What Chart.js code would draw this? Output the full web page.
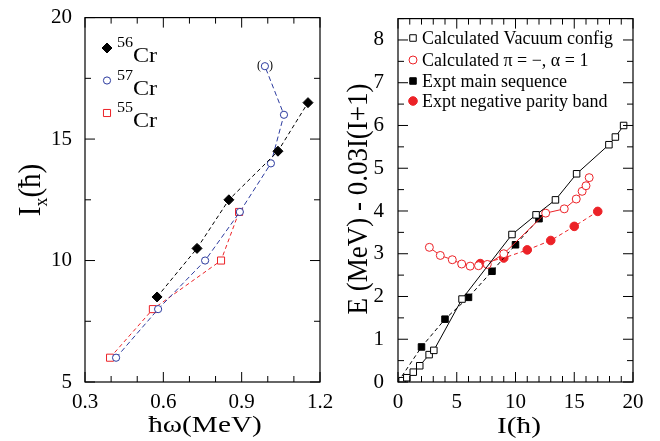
<!DOCTYPE html>
<html>
<head>
<meta charset="utf-8">
<script src="https://cdn.jsdelivr.net/npm/chart.js@4.4.0/dist/chart.umd.min.js"></script>
<style>
  body { margin: 0; background: #fff; }
  #wrap { position: relative; width: 660px; height: 441px; }
  #left { position: absolute; left: 0; top: 0; }
  #right { position: absolute; left: 330px; top: 0; }
</style>
</head>
<body>
<div id="wrap">
  <canvas id="left" width="345" height="441"></canvas>
  <canvas id="right" width="330" height="441"></canvas>
</div>
<script>
// left panel: aligned spin vs rotational frequency
const cr56Omega = [0.576, 0.729, 0.851, 1.039, 1.154]
const cr56Ix = [8.5, 10.5, 12.5, 14.5, 16.5]
const cr57Omega = [0.419, 0.580, 0.760, 0.893, 1.012, 1.062, 0.989]
const cr57Ix = [6, 8, 10, 12, 14, 16, 18]
const cr55Omega = [0.396, 0.560, 0.821, 0.890]
const cr55Ix = [6, 8, 10, 12]
const leftXTicks = [0.3, 0.6, 0.9, 1.2]
const leftYTicks = [5, 10, 15, 20]

// right panel: E - 0.03 I(I+1) vs spin
const vacI = [0, 0.35, 0.75, 1.3, 1.85, 2.65, 3.05, 5.45, 9.7, 11.75, 13.4, 15.2, 17.95, 18.5, 19.2]
const vacE = [0, 0.03, 0.1, 0.23, 0.38, 0.64, 0.74, 1.94, 3.45, 3.91, 4.26, 4.87, 5.55, 5.73, 6.0]
const negCalcI = [2.67, 3.6, 4.62, 5.42, 6.14, 6.85, 7.6, 9.0, 12.57, 14.15, 15.17, 15.67, 16.0, 16.27]
const negCalcE = [3.15, 2.96, 2.86, 2.76, 2.71, 2.72, 2.75, 3.0, 3.95, 4.05, 4.28, 4.46, 4.59, 4.78]
const mainI = [0, 2, 4, 6, 8, 10, 12]
const mainE = [0, 0.82, 1.47, 1.98, 2.59, 3.21, 3.82]
const negExpI = [7, 9, 11, 13, 15, 17]
const negExpE = [2.77, 2.9, 3.09, 3.31, 3.64, 3.99]
const rightXTicks = [0, 5, 10, 15, 20]
const rightYTicks = [0, 1, 2, 3, 4, 5, 6, 7, 8]

const SERIF = '"Liberation Serif", "Times New Roman", serif'
const RED = '#ec2227'
const BLUE = '#2b3a9e'

function toPoints(xs, ys)
{
    return xs.map((x, i) => ({ x: x, y: ys[i] }))
}

function stretchText(ctx, str, x, y, sx)
{
    ctx.save()
    ctx.translate(x, y)
    ctx.scale(sx, 1)
    ctx.fillText(str, 0, 0)
    ctx.restore()
}

// frame round the plot area with inward ticks on all four sides
function drawFrame(chart, xStep, xMajor, yStep, yMajor)
{
    const ctx = chart.ctx
    const a = chart.chartArea
    const xs = chart.scales.x, ys = chart.scales.y
    ctx.save()
    ctx.strokeStyle = '#000'
    ctx.lineWidth = 1.2
    ctx.strokeRect(a.left, a.top, a.right - a.left, a.bottom - a.top)
    ctx.lineWidth = 1
    ctx.beginPath()
    let n = Math.round((xs.max - xs.min) / xStep)
    for (let i = 0; i <= n; i++) {
        const px = xs.getPixelForValue(xs.min + i * xStep)
        const len = i % xMajor === 0 ? 10 : 6
        ctx.moveTo(px, a.bottom); ctx.lineTo(px, a.bottom - len)
        ctx.moveTo(px, a.top); ctx.lineTo(px, a.top + len)
    }
    n = Math.round((ys.max - ys.min) / yStep)
    for (let i = 0; i <= n; i++) {
        const py = ys.getPixelForValue(ys.min + i * yStep)
        const len = i % yMajor === 0 ? 10 : 6
        ctx.moveTo(a.left, py); ctx.lineTo(a.left + len, py)
        ctx.moveTo(a.right, py); ctx.lineTo(a.right - len, py)
    }
    ctx.stroke()
    ctx.restore()
}

function marker(ctx, style, radius, fill, stroke, x, y)
{
    ctx.save()
    ctx.fillStyle = fill
    ctx.strokeStyle = stroke
    ctx.lineWidth = 1
    Chart.helpers.drawPoint(ctx, { pointStyle: style, radius: radius, rotation: 0, borderWidth: 1 }, x, y)
    ctx.restore()
}

const leftDecor = {
    id: 'leftDecor',
    afterDraw(chart)
    {
        drawFrame(chart, 0.1, 3, 2.5, 2)
        const ctx = chart.ctx
        ctx.save()
        ctx.fillStyle = '#000'
        ctx.textBaseline = 'alphabetic'

        // x title
        ctx.font = '24px ' + SERIF
        ctx.textAlign = 'center'
        stretchText(ctx, 'ħω(MeV)', 205, 432, 1.22)

        // y title, rotated, with subscript
        ctx.save()
        ctx.translate(40, 190)
        ctx.rotate(-Math.PI / 2)
        ctx.scale(1, 1.1)
        ctx.textAlign = 'left'
        ctx.font = '29px ' + SERIF
        const wI = ctx.measureText('I').width
        const wP = ctx.measureText('(ħ)').width
        ctx.font = '18px ' + SERIF
        const wX = ctx.measureText('x').width
        let sx = -(wI + wX + wP) / 2
        ctx.font = '29px ' + SERIF
        ctx.fillText('I', sx, 0)
        ctx.font = '18px ' + SERIF
        ctx.fillText('x', sx + wI, 6)
        ctx.font = '29px ' + SERIF
        ctx.fillText('(ħ)', sx + wI + wX, 0)
        ctx.restore()

        // legend
        const rows = [
            { mass: '56', style: 'rectRot', r: 5, fill: '#000', stroke: '#000' },
            { mass: '57', style: 'circle', r: 3.6, fill: '#fff', stroke: BLUE },
            { mass: '55', style: 'rect', r: 5, fill: '#fff', stroke: RED }
        ]
        rows.forEach((row, i) => {
            const y = 48 + i * 32.5
            marker(ctx, row.style, row.r, row.fill, row.stroke, 107, y)
            ctx.fillStyle = '#000'
            ctx.textAlign = 'left'
            ctx.font = '14px ' + SERIF
            stretchText(ctx, row.mass, 117, y - 1, 1.15)
            ctx.font = '21px ' + SERIF
            stretchText(ctx, 'Cr', 133, y + 14, 1.15)
        })

        // parentheses round the tentative 57Cr point
        const last = cr57Omega.length - 1
        const px = chart.scales.x.getPixelForValue(cr57Omega[last])
        const py = chart.scales.y.getPixelForValue(cr57Ix[last])
        ctx.font = '12px ' + SERIF
        ctx.textAlign = 'center'
        ctx.textBaseline = 'middle'
        ctx.fillText('(', px - 6, py)
        ctx.fillText(')', px + 6, py)
        ctx.restore()
    }
}

const rightDecor = {
    id: 'rightDecor',
    afterDraw(chart)
    {
        drawFrame(chart, 1, 5, 0.5, 2)
        const ctx = chart.ctx
        ctx.save()
        ctx.fillStyle = '#000'
        ctx.textBaseline = 'alphabetic'

        ctx.font = '24px ' + SERIF
        ctx.textAlign = 'center'
        stretchText(ctx, 'I(ħ)', 189, 433, 1.22)

        ctx.save()
        ctx.translate(37, 199)
        ctx.rotate(-Math.PI / 2)
        ctx.scale(1, 1.1)
        ctx.font = '27px ' + SERIF
        ctx.textAlign = 'center'
        ctx.fillText('E (MeV) - 0.03I(I+1)', 0, 0)
        ctx.restore()

        const rows = [
            { text: 'Calculated Vacuum config', style: 'rect', r: 4.6, fill: '#fff', stroke: '#000' },
            { text: 'Calculated π = −, α = 1', style: 'circle', r: 4, fill: '#fff', stroke: RED },
            { text: 'Expt main sequence', style: 'rect', r: 4.6, fill: '#000', stroke: '#000' },
            { text: 'Expt negative parity band', style: 'circle', r: 4.3, fill: RED, stroke: RED }
        ]
        const ys = [38, 60, 81, 101]
        rows.forEach((row, i) => {
            marker(ctx, row.style, row.r, row.fill, row.stroke, 83, ys[i])
            ctx.fillStyle = '#000'
            ctx.textAlign = 'left'
            ctx.textBaseline = 'middle'
            ctx.font = '18px ' + SERIF
            ctx.fillText(row.text, 92, ys[i] + 1)
        })
        ctx.restore()
    }
}

function series(xs, ys, color, style, radius, filled, dash)
{
    return {
        data: toPoints(xs, ys),
        showLine: true,
        borderColor: color,
        borderWidth: 1,
        borderDash: dash,
        pointStyle: style,
        pointRadius: radius,
        pointHoverRadius: radius,
        pointBorderWidth: 1,
        pointBorderColor: color,
        pointBackgroundColor: filled ? color : '#fff',
        tension: 0
    }
}

function axis(min, max, step, tickValues, fitKey, fitSize, pad)
{
    return {
        type: 'linear',
        min: min,
        max: max,
        grid: { display: false },
        border: { display: false },
        afterBuildTicks: s => { s.ticks = tickValues.map(v => ({ value: v })) },
        afterFit: s => { s[fitKey] = fitSize },
        ticks: {
            stepSize: step,
            color: '#000',
            padding: pad,
            font: { family: SERIF, size: 21 },
            callback: v => step < 1 ? Number(v).toFixed(1) : String(v)
        }
    }
}

const common = {
    responsive: false,
    devicePixelRatio: 1,
    animation: false,
    events: [],
    plugins: { legend: { display: false }, tooltip: { enabled: false } }
}

new Chart(document.getElementById('left'), {
    type: 'scatter',
    data: {
        datasets: [
            series(cr56Omega, cr56Ix, '#000', 'rectRot', 5, true, [4, 3]),
            series(cr57Omega, cr57Ix, BLUE, 'circle', 3.6, false, [5, 3]),
            series(cr55Omega, cr55Ix, RED, 'rect', 5, false, [4, 3])
        ]
    },
    options: Object.assign({}, common, {
        layout: { padding: { top: 17, right: 25, left: 0, bottom: 0 } },
        scales: {
            x: axis(0.3, 1.2, 0.3, leftXTicks, 'height', 59, 0),
            y: axis(5, 20, 5, leftYTicks, 'width', 85, 5)
        }
    }),
    plugins: [leftDecor]
})

new Chart(document.getElementById('right'), {
    type: 'scatter',
    data: {
        datasets: [
            series(vacI, vacE, '#000', 'rect', 4.6, false, []),
            series(negCalcI, negCalcE, RED, 'circle', 4, false, []),
            series(mainI, mainE, '#000', 'rect', 4.6, true, [4, 3]),
            series(negExpI, negExpE, RED, 'circle', 4.3, true, [4, 3])
        ]
    },
    options: Object.assign({}, common, {
        layout: { padding: { top: 17, right: 27, left: 0, bottom: 0 } },
        scales: {
            x: axis(0, 20, 5, rightXTicks, 'height', 59, 0),
            y: axis(0, 8.5, 1, rightYTicks, 'width', 68, 6)
        }
    }),
    plugins: [rightDecor]
})
</script>
</body>
</html>
